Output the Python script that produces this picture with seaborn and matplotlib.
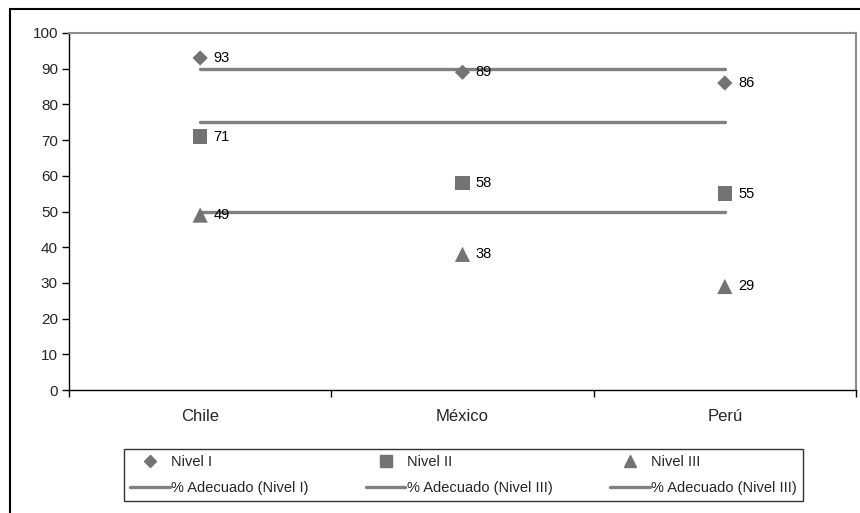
import pandas as pd
import numpy as np
import matplotlib.pyplot as plt
import seaborn as sns
from matplotlib.patches import Rectangle
from matplotlib.lines import Line2D

# datos
paises = ['Chile', 'México', 'Perú']
nivel_1 = [93, 89, 86]
nivel_2 = [71, 58, 55]
nivel_3 = [49, 38, 29]
adecuado_1 = [90, 90, 90]
adecuado_2 = [75, 75, 75]
adecuado_3 = [50, 50, 50]
series = ['Nivel I', 'Nivel II', 'Nivel III']
lineas = ['% Adecuado (Nivel I)', '% Adecuado (Nivel III)', '% Adecuado (Nivel III)']

sns.set_style('white')
plt.rcParams['font.family'] = ['Liberation Sans', 'DejaVu Sans']

pos = np.arange(len(paises))
puntos = pd.DataFrame({
    'x': np.tile(pos, 3),
    'y': nivel_1 + nivel_2 + nivel_3,
    'serie': np.repeat(series, 3),
})

gris_m = '#737373'
gris_l = '#808080'

fig = plt.figure(figsize=(8.6, 5.13), dpi=100)
ax = fig.add_axes([69 / 860, 1 - 390 / 513, (856 - 69) / 860, (390 - 33) / 513])

# lineas de % adecuado
for vals in [adecuado_1, adecuado_2, adecuado_3]:
    sns.lineplot(x=pos, y=vals, ax=ax, color=gris_l, linewidth=2.4, zorder=2)

# puntos
marcadores = {'Nivel I': 'D', 'Nivel II': 's', 'Nivel III': '^'}
tamanos = {'Nivel I': 60, 'Nivel II': 110, 'Nivel III': 120}
for s in series:
    d = puntos[puntos['serie'] == s]
    sns.scatterplot(data=d, x='x', y='y', ax=ax, marker=marcadores[s], s=tamanos[s],
                    color=gris_m, edgecolor='none', linewidth=0, zorder=3, legend=False)
    for xx, yy in zip(d['x'], d['y']):
        ax.annotate(str(yy), (xx, yy), xytext=(9.5, 0), textcoords='offset points',
                    va='center', ha='left', fontsize=10.5, color='black', zorder=4)

ax.set_xlim(-0.5, 2.5)
ax.set_ylim(0, 100)
ax.set_yticks(range(0, 101, 10))
ax.set_xticks(pos)
ax.set_xticklabels(paises)
ax.set_xticks([-0.5, 0.5, 1.5, 2.5], minor=True)
ax.tick_params(axis='x', which='major', bottom=True, length=0, pad=14, labelsize=12)
ax.tick_params(axis='x', which='minor', bottom=True, length=5, width=1, color='black', direction='out')
ax.tick_params(axis='y', left=True, length=5, width=1, color='black', direction='out', labelsize=11, pad=3)
ax.set_xlabel('')
ax.set_ylabel('')

for lado in ['left', 'bottom']:
    ax.spines[lado].set_color('black')
    ax.spines[lado].set_linewidth(1)
for lado in ['top', 'right']:
    ax.spines[lado].set_color('#8c8c8c')
    ax.spines[lado].set_linewidth(1.5)

# leyenda
h = {s: Line2D([], [], marker=marcadores[s], color=gris_m, linestyle='none',
               markersize={'Nivel I': 6, 'Nivel II': 9, 'Nivel III': 9}[s]) for s in series}
hl = [Line2D([], [], color=gris_l, linewidth=2.4) for _ in lineas]
handles = [h['Nivel I'], hl[0], h['Nivel II'], hl[1], h['Nivel III'], hl[2]]
labels = [series[0], lineas[0], series[1], lineas[1], series[2], lineas[2]]
leg = fig.legend(handles, labels, ncol=3, loc='center',
                 bbox_to_anchor=((123 + 804) / 2 / 860, 1 - 475 / 513),
                 frameon=True, fancybox=False, edgecolor='black', fontsize=10.5,
                 handlelength=2.7, handletextpad=0.1, columnspacing=3.95,
                 labelspacing=0.8, borderpad=0.45, borderaxespad=0)
leg.get_frame().set_linewidth(1)

# borde exterior
fig.patches.append(Rectangle((10 / 860, -0.01), 1.0, 1 - 9 / 513 + 0.01,
                             transform=fig.transFigure, fill=False,
                             edgecolor='black', linewidth=1.5))

fig.savefig('out.png', dpi=100)
